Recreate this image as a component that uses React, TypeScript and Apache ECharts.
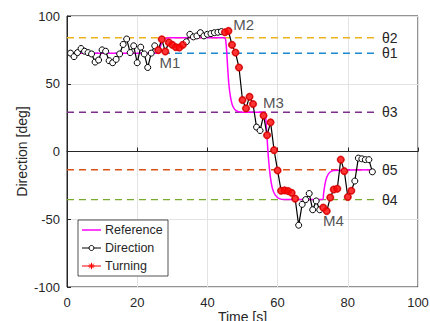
import React, { useEffect, useRef } from "react";
import * as echarts from "echarts";

const TIME = [
  1, 2, 3, 4, 5, 6, 7, 8, 9, 10, 11, 12, 13, 14, 15, 16, 17, 18, 19, 20,
  21, 22, 23, 24, 25, 26, 27, 28, 29, 30, 31, 32, 33, 34, 35, 36, 37, 38, 39, 40,
  41, 42, 43, 44, 45, 46, 47, 48, 49, 50, 51, 52, 53, 54, 55, 56, 57, 58, 59, 60,
  61, 62, 63, 64, 65, 66, 67, 68, 69, 70, 71, 72, 73, 74, 75, 76, 77, 78, 79, 80,
  81, 82, 83, 84, 85, 86, 87,
];
const DIRECTION = [
  72.6, 70, 73, 76, 74, 73, 72, 66, 67.5, 75, 74, 67, 65.5, 68, 72, 79, 83, 73, 78, 65.5,
  77, 72, 62, 72.6, 78, 74.8, 82.8, 73.8, 80.5, 78.7, 77, 76.7, 78.7, 81, 86.5, 84.6, 85.3, 87.7, 85.3, 86.5,
  87, 87.7, 88, 88.5, 88, 89, 78.7, 73, 62, 38, 31.8, 40.4, 35, 18, 15.5, 26.5, 12, 21.5, 1, -14,
  -29, -28.7, -29.2, -30.5, -34.8, -54.4, -39, -35.5, -31, -43, -36.5, -43, -41.4, -44, -34, -28, -27.5, -6, -14.5, -33.6,
  -29, -21.8, -4.9, -5.4, -6, -6, -15,
];
const TURNING_TIMES = [
  26, 27, 28, 29, 30, 31, 32, 33,
  45, 46, 47, 48, 49, 50, 51, 52, 53,
  56, 57, 58, 59, 60, 61, 62, 63, 64, 65,
  73, 74, 75, 76, 77, 78, 79, 80, 81,
];
const REF_T = [
  0, 26.2, 26.5, 26.9, 27.5, 28.5, 29.5,
  44.8, 45.3, 45.7, 46.1, 46.6, 47.3, 48.3, 50,
  56.2, 56.6, 57, 57.4, 57.9, 58.5, 59.3, 60.5, 62,
  72.8, 73.1, 73.5, 74, 74.8, 76, 87,
];
const REF_V = [
  72.5, 72.5, 76, 80, 82.5, 83.7, 84,
  84, 80, 65, 50, 40, 33, 30, 29,
  29, 25, 10, -5, -18, -27, -32, -34.8, -35.5,
  -35.5, -31, -24, -19, -15.5, -14, -13.5,
];
const THETA_NAMES = ["θ2", "θ1", "θ3", "θ5", "θ4"];
const THETA_VALUES = [84, 72.5, 29, -13.5, -35.5];
const THETA_COLORS = ["#EDB120", "#1f88d0", "#7E2F8E", "#D95319", "#77AC30"];
const THETA_END = 88;
const MARK_NAMES = ["M1", "M2", "M3", "M4"];
const MARK_POS = [
  [29.3, 65.5],
  [50.3, 94],
  [58.8, 36],
  [75.9, -51],
];
const X_TICKS = { min: 0, max: 100, interval: 20 };
const Y_TICKS = { min: -100, max: 100, interval: 50 };

const FONT = "'Liberation Sans', Arial, Helvetica, sans-serif";
const TXT = "#262626";

export default function App() {
  const ref = useRef<HTMLDivElement>(null);
  useEffect(() => {
    if (!ref.current) return;
    const chart = echarts.init(ref.current, null, { renderer: "svg" });
    const dirData = TIME.map((t, i) => [t, DIRECTION[i]]);
    const turnData = TURNING_TIMES.map((t) => [t, DIRECTION[TIME.indexOf(t)]]);
    const refData = REF_T.map((t, i) => [t, REF_V[i]]);

    const thetaSeries = THETA_NAMES.map((name, i) => ({
      type: "line",
      name,
      data: [
        [0, THETA_VALUES[i]],
        [THETA_END, THETA_VALUES[i]],
      ],
      symbol: "none",
      silent: true,
      z: 1,
      lineStyle: { color: THETA_COLORS[i], width: 1.4, type: [7, 5] },
      endLabel: {
        show: true,
        formatter: name,
        color: TXT,
        fontSize: 14,
        fontFamily: FONT,
        distance: 6,
      },
    }));

    const lx = 78, ly = 220, lw = 90, lh = 56;
    const rows = [230, 248, 266];
    const ast = (cx: number, cy: number) => {
      const r = 3.2;
      const els: any[] = [];
      const angs = [0, Math.PI / 4, Math.PI / 2, (3 * Math.PI) / 4];
      angs.forEach((a) => {
        els.push({
          type: "line",
          shape: {
            x1: cx - r * Math.cos(a),
            y1: cy - r * Math.sin(a),
            x2: cx + r * Math.cos(a),
            y2: cy + r * Math.sin(a),
          },
          style: { stroke: "#ff0000", lineWidth: 1 },
        });
      });
      return els;
    };
    const graphic: any[] = [
      {
        type: "rect",
        shape: { x: lx, y: ly, width: lw, height: lh },
        style: { fill: "#ffffff", stroke: TXT, lineWidth: 0.8 },
        z: 100,
      },
      {
        type: "line",
        shape: { x1: 82, y1: rows[0], x2: 101, y2: rows[0] },
        style: { stroke: "#ff00ff", lineWidth: 1.5 },
        z: 101,
      },
      {
        type: "line",
        shape: { x1: 82, y1: rows[1], x2: 101, y2: rows[1] },
        style: { stroke: "#000000", lineWidth: 1 },
        z: 101,
      },
      {
        type: "circle",
        shape: { cx: 91.5, cy: rows[1], r: 2.5 },
        style: { fill: "#ffffff", stroke: "#000000", lineWidth: 1 },
        z: 102,
      },
      {
        type: "line",
        shape: { x1: 82, y1: rows[2], x2: 101, y2: rows[2] },
        style: { stroke: "#ff0000", lineWidth: 1 },
        z: 101,
      },
      ...ast(91.5, rows[2]).map((e) => ({ ...e, z: 102 })),
      ...["Reference", "Direction", "Turning"].map((s, i) => ({
        type: "text",
        x: 105,
        y: rows[i],
        z: 102,
        style: {
          text: s,
          fill: TXT,
          font: `12.5px ${FONT}`,
          verticalAlign: "middle",
        },
      })),
    ];

    chart.setOption({
      animation: false,
      backgroundColor: "#ffffff",
      textStyle: { fontFamily: FONT },
      grid: {
        left: 67,
        right: 12,
        top: 16,
        bottom: 34,
        show: true,
        borderColor: TXT,
        borderWidth: 1,
        outerBoundsMode: "none",
        containLabel: false,
      },
      xAxis: {
        type: "value",
        min: X_TICKS.min,
        max: X_TICKS.max,
        interval: X_TICKS.interval,
        name: "Time [s]",
        nameLocation: "middle",
        nameGap: 23,
        nameMoveOverlap: false,
        nameTextStyle: { color: TXT, fontSize: 14, fontFamily: FONT, verticalAlign: "top" },
        axisLine: { show: true, lineStyle: { color: TXT } },
        axisTick: { show: true, inside: true, length: 4, lineStyle: { color: TXT } },
        axisLabel: {
          color: TXT,
          fontSize: 13,
          fontFamily: FONT,
          margin: 9,
          showMaxLabel: true,
          hideOverlap: false,
        },
        splitLine: { show: true, lineStyle: { color: "#e3e3e3", width: 1 } },
      },
      yAxis: {
        type: "value",
        min: Y_TICKS.min,
        max: Y_TICKS.max,
        interval: Y_TICKS.interval,
        name: "Direction [deg]",
        nameLocation: "middle",
        nameGap: 38,
        nameMoveOverlap: false,
        nameTextStyle: { color: TXT, fontSize: 14, fontFamily: FONT },
        axisLine: { show: true, lineStyle: { color: TXT } },
        axisTick: { show: true, inside: true, length: 4, lineStyle: { color: TXT } },
        axisLabel: { color: TXT, fontSize: 13, fontFamily: FONT, margin: 7 },
        splitLine: { show: true, lineStyle: { color: "#e3e3e3", width: 1 } },
      },
      graphic,
      series: [
        ...thetaSeries,
        {
          type: "line",
          name: "Reference",
          data: refData,
          symbol: "none",
          smooth: 0.3,
          z: 2,
          lineStyle: { color: "#ff00ff", width: 1.5 },
        },
        {
          type: "line",
          name: "Direction",
          data: dirData,
          symbol: "circle",
          symbolSize: 6,
          z: 3,
          lineStyle: { color: "#000000", width: 1.2 },
          itemStyle: { color: "#ffffff", borderColor: "#000000", borderWidth: 1 },
        },
        {
          type: "scatter",
          name: "Turning",
          data: turnData,
          symbol: "circle",
          symbolSize: 7.5,
          z: 4,
          itemStyle: { color: "#ff0000", borderColor: "#dd0000", borderWidth: 0.5 },
        },
        {
          type: "scatter",
          name: "marks",
          data: MARK_NAMES.map((n, i) => ({ name: n, value: MARK_POS[i] })),
          symbolSize: 1,
          z: 5,
          itemStyle: { color: "rgba(0,0,0,0)" },
          label: {
            show: true,
            position: "inside",
            formatter: "{b}",
            color: TXT,
            fontSize: 15,
            fontFamily: FONT,
          },
        },
      ],
    });
    return () => chart.dispose();
  }, []);
  return (
    <div
      ref={ref}
      style={{ position: "absolute", left: 0, top: 0, width: 430, height: 321 }}
    />
  );
}
